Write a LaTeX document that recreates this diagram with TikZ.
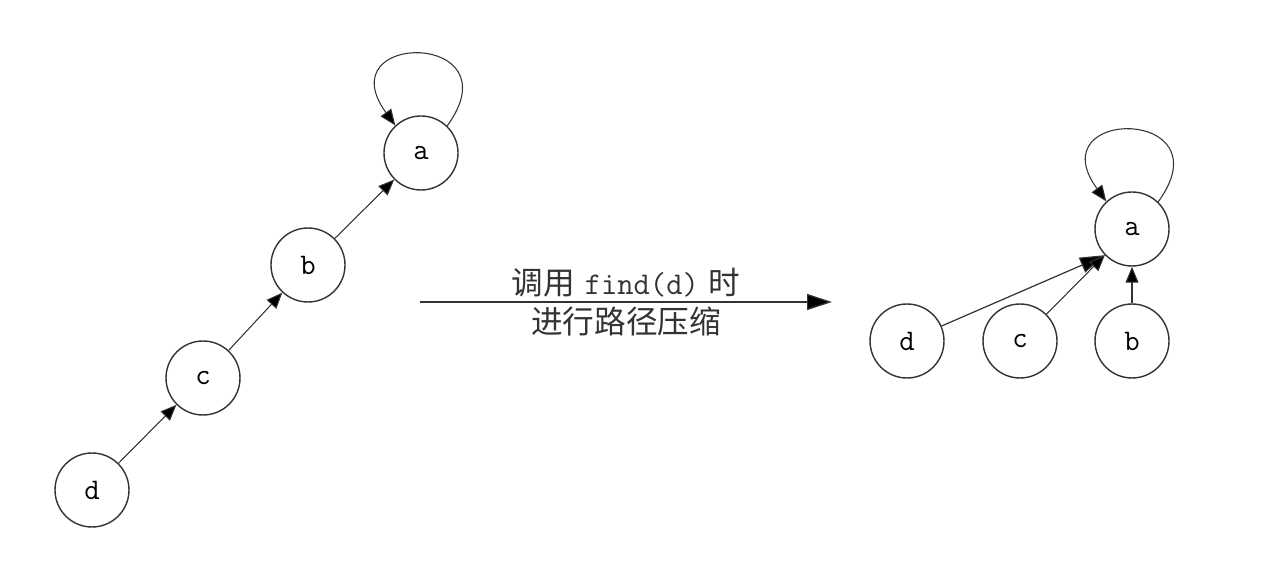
\documentclass[tikz,border=0pt]{standalone}
\usepackage{fontspec}
\newfontfamily\cjk{Noto Sans CJK SC}
\usetikzlibrary{arrows.meta,positioning}
\definecolor{ink}{HTML}{333333}
\tikzset{
  elem/.style={circle,draw=ink,line width=0.8pt,fill=white,minimum size=1.48cm,inner sep=0pt,font=\fontsize{17}{20}\selectfont\ttfamily},
  arrow/.style={-{Triangle[length=3.2mm,width=2.6mm,fill=black]},line width=0.6pt,ink},
  bigarrow/.style={-{Triangle[length=5mm,width=3.2mm,fill=black]},line width=0.7pt,ink},
  step note/.style={font=\fontsize{18}{22}\selectfont,align=center,text=ink}
}

\begin{document}
\begin{tikzpicture}
        \useasboundingbox (0,0) rectangle (25.4,-11.24);
        % before
        \node[elem] (a1) at (8.42,-3.06) {a};
        \node[elem] (b1) at (6.16,-5.30) {b};
        \node[elem] (c1) at (4.06,-7.56) {c};
        \node[elem] (d1) at (1.84,-9.80) {d};
        \draw[arrow] (d1) -- (c1);
        \draw[arrow] (c1) -- (b1);
        \draw[arrow] (b1) -- (a1);
        \draw[arrow] (a1.46) .. controls +(54:2.35) and +(126:2.35) .. (a1.133);
        % find(d)
        \coordinate (from) at (8.40,-6.04);
        \coordinate (to) at (16.64,-6.04);
        \draw[bigarrow] (from) -- (to) node[midway,step note] (call) {{\cjk 调用} {\ttfamily find(d)} {\cjk 时}\\{\cjk 进行路径压缩}};
        % after
        \node[elem] (a2) at (22.64,-4.58) {a};
        \node[elem] (d2) at (18.14,-6.82) {d};
        \node[elem] (c2) at (20.40,-6.82) {c};
        \node[elem] (b2) at (22.64,-6.82) {b};
        \draw[bigarrow] (d2) -- (a2.224);
        \draw[arrow] (c2) -- (a2.224);
        \draw[arrow] (b2) -- (a2);
        \draw[arrow] (a2.46) .. controls +(54:2.35) and +(126:2.35) .. (a2.133);
      \end{tikzpicture}
\end{document}
